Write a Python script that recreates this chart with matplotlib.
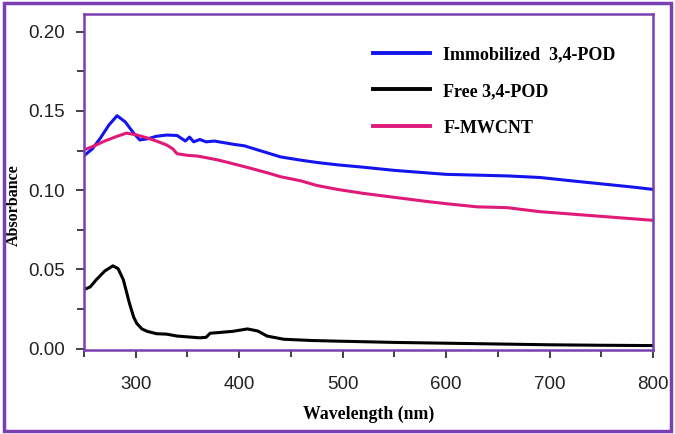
import matplotlib
matplotlib.use('Agg')
import matplotlib.pyplot as plt
from matplotlib.patches import Rectangle
from matplotlib.ticker import MultipleLocator

# wavelengths (nm) and absorbance
wl_immob = [250, 258, 266, 274, 282, 290, 298, 304, 312, 320, 330, 340, 348, 352,
            356, 362, 368, 376, 385, 394, 405, 415, 427, 440, 459, 475, 495, 520,
            550, 580, 600, 630, 660, 691, 720, 750, 780, 800]
abs_immob = [0.1217, 0.126, 0.133, 0.141, 0.147, 0.143, 0.136, 0.1317, 0.1325, 0.134,
             0.1348, 0.1345, 0.131, 0.1335, 0.1305, 0.132, 0.1305, 0.131, 0.130, 0.129,
             0.128, 0.126, 0.1236, 0.121, 0.119, 0.1175, 0.116, 0.1145, 0.1125, 0.111,
             0.110, 0.1095, 0.109, 0.108, 0.106, 0.104, 0.102, 0.1005]

wl_free = [250, 256, 262, 270, 278, 283, 288, 294, 298, 301, 306, 311, 320, 330,
           340, 350, 362, 368, 372, 380, 394, 408, 418, 427, 443, 470, 495, 550,
           600, 650, 700, 750, 800]
abs_free = [0.0373, 0.039, 0.0436, 0.049, 0.0523, 0.0505, 0.0436, 0.0286, 0.020, 0.016,
            0.0125, 0.011, 0.0095, 0.0092, 0.008, 0.0075, 0.0069, 0.0072, 0.0098, 0.0102,
            0.011, 0.0125, 0.0112, 0.008, 0.006, 0.0052, 0.0048, 0.004, 0.0035, 0.003,
            0.0025, 0.0022, 0.002]

wl_mwcnt = [250, 260, 270, 280, 291, 300, 311, 320, 330, 336, 340, 350, 360, 369,
            380, 394, 410, 427, 440, 459, 475, 495, 520, 550, 580, 600, 630, 659,
            690, 720, 760, 800]
abs_mwcnt = [0.1254, 0.128, 0.131, 0.1335, 0.136, 0.135, 0.133, 0.131, 0.1285, 0.126,
             0.123, 0.122, 0.1215, 0.1204, 0.119, 0.1167, 0.114, 0.111, 0.1085, 0.106,
             0.103, 0.1005, 0.098, 0.0955, 0.093, 0.0915, 0.0895, 0.089, 0.0865,
             0.085, 0.083, 0.081]

purple = '#7a3fb0'

fig = plt.figure(figsize=(6.75, 4.34), dpi=100)
ax = fig.add_axes([0.1244, 0.1935, 0.8430, 0.7745])

ax.plot(wl_immob, abs_immob, color='#1414ee', lw=2.2, label='Immobilized  3,4-POD')
ax.plot(wl_free, abs_free, color='black', lw=2.2, label='Free 3,4-POD')
ax.plot(wl_mwcnt, abs_mwcnt, color='#e01a78', lw=2.2, label='F-MWCNT')

ax.set_xlim(250, 800)
ax.set_ylim(-0.0008, 0.2112)
ax.xaxis.set_minor_locator(MultipleLocator(50))
ax.yaxis.set_minor_locator(MultipleLocator(0.025))
ax.set_xticks([300, 400, 500, 600, 700, 800])
ax.set_yticks([0.0, 0.05, 0.10, 0.15, 0.20])
ax.set_yticklabels(['0.00', '0.05', '0.10', '0.15', '0.20'])

for s in ax.spines.values():
    s.set_color(purple)
    s.set_linewidth(1.8)
ax.tick_params(which='major', direction='out', length=6, width=1.3, color='#333333',
               labelsize=13.5)
ax.tick_params(which='minor', direction='out', length=5, width=1.3, color='#333333')
ax.tick_params(axis='x', which='major', pad=13)
ax.tick_params(axis='y', which='major', pad=8)
for lab in ax.get_xticklabels() + ax.get_yticklabels():
    lab.set_family('Liberation Sans')
    lab.set_color('#222222')

ax.set_xlabel('Wavelength (nm)', family='Liberation Serif', fontweight='bold',
              fontsize=12.8)
ax.set_ylabel('Absorbance', family='Liberation Serif', fontweight='bold',
              fontsize=11.5)
ax.xaxis.set_label_coords(0.5, -0.165)
ax.yaxis.set_label_coords(-0.11, 0.43)

leg = ax.legend(loc='upper left', bbox_to_anchor=(0.48, 0.953), frameon=False,
                prop={'family': 'Liberation Serif', 'weight': 'bold', 'size': 13},
                handlelength=3.15, handletextpad=0.72, labelspacing=1.1)
for h in leg.get_lines():
    h.set_linewidth(2.8)

fig.patches.append(Rectangle((0.006, 0.008), 0.988, 0.985, transform=fig.transFigure,
                             fill=False, edgecolor=purple, lw=2.5))

fig.savefig('out.png', dpi=100)
